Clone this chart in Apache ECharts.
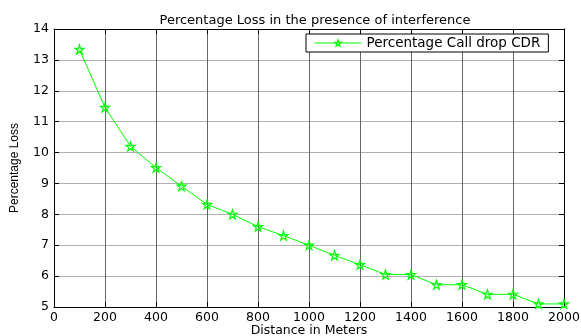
<!DOCTYPE html>
<html><head><meta charset="utf-8">
<script src="https://cdn.jsdelivr.net/npm/echarts@6/dist/echarts.min.js"></script>
<style>html,body{margin:0;padding:0;background:#fff}#c{width:581px;height:336px}</style>
</head><body><div id="c"></div>
<script>
const distances = [100,200,300,400,500,600,700,800,900,1000,1100,1200,1300,1400,1500,1600,1700,1800,1900,2000];
const lossCDR = [13.34,11.46,10.2,9.51,8.91,8.32,8.0,7.6,7.31,7.0,6.67,6.37,6.05,6.05,5.72,5.72,5.41,5.41,5.1,5.1];
const seriesName = 'Percentage Call drop CDR';
const titleText = 'Percentage Loss in the presence of interference';
const xName = 'Distance in Meters';
const yName = 'Percentage Loss';

const wide = 'DejaVu Sans, Verdana, sans-serif';
const narrow = 'Liberation Sans, Arial, sans-serif';
const star = 'path://M50,2 L61,36 L97,36 L68,57 L79,91 L50,70 L21,91 L32,57 L3,36 L39,36 Z';
const chart = echarts.init(document.getElementById('c'), null, {renderer:'canvas'});
const axisCommon = {
  axisLine:{show:true, onZero:false, lineStyle:{color:'#000', width:1}},
  axisTick:{show:true, inside:true, length:5, lineStyle:{color:'#000'}},
};
const hollow = {color:'rgba(255,255,255,0)', borderColor:'#00ff00', borderWidth:1.2};
chart.setOption({
  animation:false,
  backgroundColor:'#fff',
  title:{text:titleText, left:310, textAlign:'center', top:9,
    textStyle:{fontFamily:wide, fontSize:13, fontWeight:'normal', color:'#000'}},
  legend:{data:[{name:seriesName}], left:306, top:34, orient:'vertical',
    backgroundColor:'#fff', borderColor:'#000', borderWidth:1, padding:[2,8,2,8],
    itemWidth:47, itemHeight:8, itemGap:0,
    lineStyle:{width:1, color:'#00ff00'}, itemStyle:hollow,
    textStyle:{fontFamily:wide, fontSize:13.5, color:'#000'}},
  grid:{left:54, right:17, top:29, bottom:29, outerBoundsMode:'none', containLabel:false},
  xAxis:[{type:'value', min:0, max:2000, interval:200, position:'bottom',
    name:xName, nameLocation:'middle', nameGap:17, nameMoveOverlap:false,
    nameTextStyle:{fontFamily:wide, fontSize:12.5, color:'#000'},
    ...axisCommon,
    axisLabel:{fontFamily:wide, fontSize:12.5, color:'#000', margin:4, formatter:v=>String(v)},
    splitLine:{show:true, lineStyle:{color:'#666', width:1}}},
   {type:'value', min:0, max:2000, interval:200, position:'top',
    ...axisCommon, axisLabel:{show:false}, splitLine:{show:false}}],
  yAxis:[{type:'value', min:5, max:14, interval:1, position:'left',
    name:yName, nameLocation:'middle', nameGap:33, nameMoveOverlap:false, nameRotate:90,
    nameTextStyle:{fontFamily:narrow, fontSize:12, color:'#000'},
    ...axisCommon,
    axisLabel:{fontFamily:wide, fontSize:12.5, color:'#000', margin:5},
    splitLine:{show:true, lineStyle:{color:'#b0b0b0', width:1}}},
   {type:'value', min:5, max:14, interval:1, position:'right',
    ...axisCommon, axisLabel:{show:false}, splitLine:{show:false}}],
  series:[{name:seriesName, type:'line', data:distances.map((d,i)=>[d,lossCDR[i]]),
    xAxisIndex:0, yAxisIndex:0,
    symbol:star, symbolSize:9, showAllSymbol:true,
    lineStyle:{color:'#00ff00', width:1},
    itemStyle:hollow}]
});
</script></body></html>
